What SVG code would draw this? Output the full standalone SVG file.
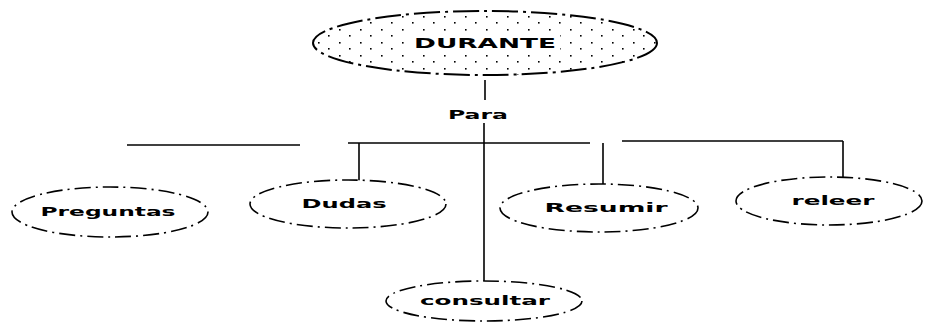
<svg xmlns="http://www.w3.org/2000/svg" width="926" height="322" viewBox="0 0 926 322">
<defs>
<pattern id="dots" width="21" height="13" patternUnits="userSpaceOnUse">
<rect x="3" y="3" width="1.6" height="1.6" fill="#000"/>
<rect x="13" y="9" width="1.6" height="1.6" fill="#000"/>
</pattern>
<style>
.node ellipse{fill:#fff;stroke:#000;stroke-width:1.6;stroke-dasharray:16 5 2 5}
.top ellipse{fill:url(#dots);stroke:#000;stroke-width:2;stroke-dasharray:26 5 3 5}
text{font-family:"DejaVu Sans","Liberation Sans",Arial,sans-serif;font-size:12px;font-weight:bold;fill:#000;text-anchor:middle;dominant-baseline:central}
.b{font-weight:bold;font-size:14px}
.conn line{stroke:#000;stroke-width:1.6}
</style>
</defs>
<g id="connectors" class="conn">
<line x1="485" y1="80" x2="485" y2="100"/>
<line x1="484" y1="123" x2="484" y2="282"/>
<line x1="127" y1="145" x2="300" y2="145"/>
<line x1="348" y1="143" x2="590" y2="143"/>
<line x1="622" y1="141" x2="843" y2="141"/>
<line x1="359" y1="143" x2="359" y2="181"/>
<line x1="603" y1="143" x2="603" y2="184"/>
<line x1="843" y1="141" x2="843" y2="177"/>
</g>
<g id="durante" class="top">
<ellipse cx="485" cy="43" rx="172" ry="32"/>
<rect x="408" y="32" width="152" height="22" fill="#fff"/>
<text class="b" x="485" y="43" textLength="142" lengthAdjust="spacingAndGlyphs">DURANTE</text>
</g>
<g id="para">
<text x="478" y="115" textLength="60" lengthAdjust="spacingAndGlyphs">Para</text>
</g>
<g id="preguntas" class="node">
<ellipse cx="110" cy="212" rx="98" ry="25"/>
<text x="108" y="212" textLength="135" lengthAdjust="spacingAndGlyphs">Preguntas</text>
</g>
<g id="dudas" class="node">
<ellipse cx="348" cy="204" rx="98" ry="24"/>
<text x="344" y="204" textLength="85" lengthAdjust="spacingAndGlyphs">Dudas</text>
</g>
<g id="resumir" class="node">
<ellipse cx="599" cy="208" rx="99" ry="24"/>
<text x="606" y="208" textLength="123" lengthAdjust="spacingAndGlyphs">Resumir</text>
</g>
<g id="releer" class="node">
<ellipse cx="829" cy="201" rx="93" ry="24"/>
<text x="833" y="201" textLength="83" lengthAdjust="spacingAndGlyphs">releer</text>
</g>
<g id="consultar" class="node">
<ellipse cx="484" cy="301" rx="98" ry="20"/>
<text x="485" y="301" textLength="130" lengthAdjust="spacingAndGlyphs">consultar</text>
</g>
</svg>
